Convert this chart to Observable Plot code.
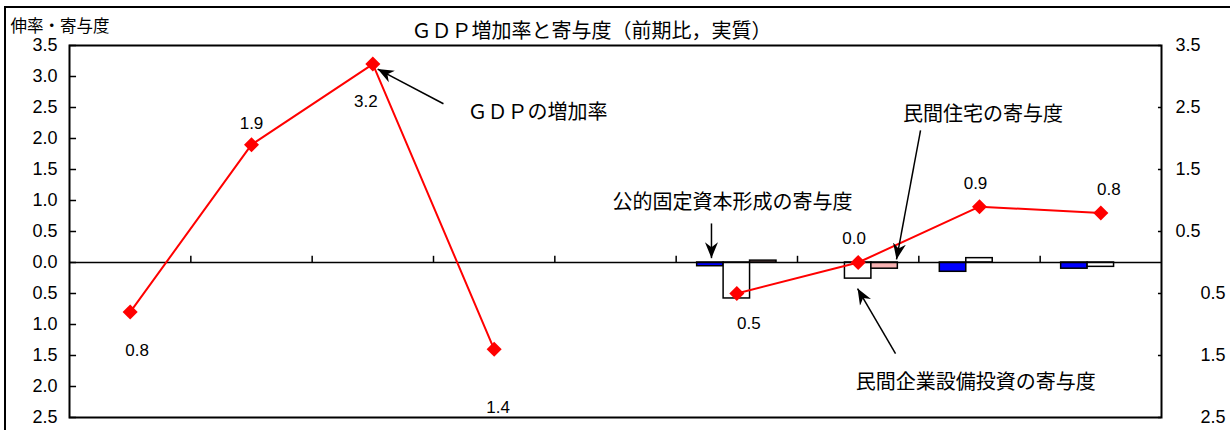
<!DOCTYPE html>
<html>
<head>
<meta charset="utf-8">
<script src="https://cdn.jsdelivr.net/npm/d3@7"></script>
<script src="https://cdn.jsdelivr.net/npm/@observablehq/plot@0.6"></script>
<style>
html, body { margin: 0; padding: 0; background: #fff; }
#wrap { position: relative; width: 1230px; height: 430px; overflow: hidden; background: #fff; }
#wrap svg { position: absolute; left: 0; top: 0; }
#outer { position: absolute; left: 4px; top: 6px; width: 1300px; height: 500px; border-top: 2px solid #000; border-left: 2px solid #000; pointer-events: none; }
</style>
</head>
<body>
<div id="wrap"></div>
<script>
// ---- data ----
const categories = ["1", "2", "3", "4", "5", "6", "7", "8", "9"];
const gdpGrowth = [-0.8, 1.9, 3.2, -1.4, null, -0.5, 0.0, 0.9, 0.8];
const publicInvestment = [null, null, null, null, null, -0.06, 0.0, -0.15, -0.10];
const businessInvestment = [null, null, null, null, null, -0.58, -0.26, 0.07, -0.07];
const housingInvestment = [null, null, null, null, null, 0.03, -0.10, 0.0, 0.0];
const leftTicks = [-2.5, -2.0, -1.5, -1.0, -0.5, 0.0, 0.5, 1.0, 1.5, 2.0, 2.5, 3.0, 3.5];
const rightTicks = [3.5, 2.5, 1.5, 0.5, -0.5, -1.5, -2.5];
const titleText = "ＧＤＰ増加率と寄与度（前期比，実質）";
const yLabelText = "伸率・寄与度";
const noteGdp = "ＧＤＰの増加率";
const noteHousing = "民間住宅の寄与度";
const notePublic = "公的固定資本形成の寄与度";
const noteBusiness = "民間企業設備投資の寄与度";

// ---- tables ----
const gdpRows = categories.map((c, i) => ({i, v: gdpGrowth[i]}));
const barW = 0.218;
function barRows(arr, k) {
  return categories.map((c, i) => ({i, k, v: arr[i]})).filter(d => d.v != null);
}
const pubRows = barRows(publicInvestment, 0);
const busRows = barRows(businessInvestment, 1);
const houRows = barRows(housingInvestment, 2);
const bx1 = d => d.i + 0.5 + (d.k - 1.5) * barW;
const bx2 = d => d.i + 0.5 + (d.k - 0.5) * barW;
const fmt = v => Math.abs(v).toFixed(1);
const CJK = "'Noto Sans CJK JP', 'Noto Sans', sans-serif";
const LAT = "'Liberation Sans', Arial, sans-serif";

function solidArrow(color, context) {
  const m = d3.create("svg:marker")
    .attr("viewBox", "-16 -7 17 14")
    .attr("markerWidth", 17)
    .attr("markerHeight", 14)
    .attr("markerUnits", "userSpaceOnUse")
    .attr("orient", "auto")
    .attr("fill", "black")
    .attr("stroke", "none");
  m.append("path").attr("d", "M0,0L-16,-6.5L-11,0L-16,6.5Z");
  return m.node();
}

const arrows = [
  {x1: 3.082, y1: 2.56, x2: 2.54, y2: 3.12},
  {x1: 7.014, y1: 2.13, x2: 6.816, y2: 0.05},
  {x1: 5.291, y1: 0.63, x2: 5.291, y2: 0.07},
  {x1: 6.808, y1: -1.47, x2: 6.495, y2: -0.42}
];

const pick = (idx) => gdpRows.filter(d => idx.includes(d.i));

const chart = Plot.plot({
  width: 1230,
  height: 430,
  marginLeft: 69,
  marginRight: 69,
  marginTop: 45,
  marginBottom: 13,
  style: {background: "transparent", fontFamily: LAT, fontSize: "18px", color: "#000"},
  x: {type: "linear", domain: [0, categories.length], axis: null},
  y: {domain: [-2.5, 3.5], axis: null},
  marks: [
    // bars
    Plot.rect(pubRows, {x1: bx1, x2: bx2, y1: 0, y2: "v", fill: "#0000ff", stroke: "#000", strokeWidth: 1.5}),
    Plot.rect(busRows, {x1: bx1, x2: bx2, y1: 0, y2: "v", fill: "#ffffff", stroke: "#000", strokeWidth: 1.5}),
    Plot.rect(houRows, {x1: bx1, x2: bx2, y1: 0, y2: "v", fill: "#f9b3b3", stroke: "#000", strokeWidth: 1.5}),
    // zero line and category ticks
    Plot.ruleY([0], {stroke: "#000", strokeWidth: 1.5}),
    Plot.ruleX(d3.range(1, categories.length), {y1: 0, y2: 0.1, stroke: "#000", strokeWidth: 1.5}),
    // left axis
    Plot.ruleY(leftTicks, {x1: 0, x2: 0.058, stroke: "#000", strokeWidth: 1.5}),
    Plot.axisY({anchor: "left", ticks: leftTicks, tickSize: 0, tickPadding: 12, tickFormat: fmt}),
    // right axis
    Plot.ruleY(rightTicks, {x1: categories.length - 0.025, x2: categories.length, stroke: "#000", strokeWidth: 1.5}),
    Plot.axisY({anchor: "right", ticks: rightTicks.filter(t => t > 0), tickSize: 0, tickPadding: 14, textAnchor: "start", tickFormat: fmt}),
    Plot.axisY({anchor: "right", ticks: rightTicks.filter(t => t < 0), tickSize: 0, tickPadding: 39, textAnchor: "start", tickFormat: fmt}),
    Plot.frame({stroke: "#000", strokeWidth: 2}),
    // GDP line
    Plot.line(gdpRows, {x: d => d.i + 0.5, y: "v", stroke: "#ff0000", strokeWidth: 2}),
    Plot.dot(gdpRows.filter(d => d.v != null), {x: d => d.i + 0.5, y: "v", symbol: "square", r: 6, rotate: 45, fill: "#ff0000", stroke: "none"}),
    // value labels
    Plot.text(pick([0]), {x: d => d.i + 0.5, y: "v", text: d => fmt(d.v), dx: 7, dy: 38, fontSize: 17}),
    Plot.text(pick([1]), {x: d => d.i + 0.5, y: "v", text: d => fmt(d.v), dx: 0, dy: -21, fontSize: 17}),
    Plot.text(pick([2]), {x: d => d.i + 0.5, y: "v", text: d => fmt(d.v), dx: -7, dy: 37, fontSize: 17}),
    Plot.text(pick([3]), {x: d => d.i + 0.5, y: "v", text: d => fmt(d.v), dx: 4, dy: 58, fontSize: 17}),
    Plot.text(pick([5]), {x: d => d.i + 0.5, y: "v", text: d => fmt(d.v), dx: 12, dy: 30, fontSize: 17}),
    Plot.text(pick([6]), {x: d => d.i + 0.5, y: "v", text: d => fmt(d.v), dx: -4, dy: -24, fontSize: 17}),
    Plot.text(pick([7]), {x: d => d.i + 0.5, y: "v", text: d => fmt(d.v), dx: -4, dy: -23, fontSize: 17}),
    Plot.text(pick([8]), {x: d => d.i + 0.5, y: "v", text: d => fmt(d.v), dx: 8, dy: -23, fontSize: 17}),
    // annotations
    Plot.link(arrows, {x1: "x1", y1: "y1", x2: "x2", y2: "y2", stroke: "#000", strokeWidth: 1.5, markerEnd: solidArrow}),
    Plot.text([noteGdp], {x: 3.28, y: 2.42, text: d => d, textAnchor: "start", fontFamily: CJK, fontSize: 20}),
    Plot.text([noteHousing], {x: 6.87, y: 2.39, text: d => d, textAnchor: "start", fontFamily: CJK, fontSize: 20}),
    Plot.text([notePublic], {x: 4.475, y: 0.97, text: d => d, textAnchor: "start", fontFamily: CJK, fontSize: 20}),
    Plot.text([noteBusiness], {x: 6.48, y: -1.93, text: d => d, textAnchor: "start", fontFamily: CJK, fontSize: 20}),
    // title and y label
    Plot.text([titleText], {frameAnchor: "top", text: d => d, dx: -24, dy: -22, fontFamily: CJK, fontSize: 20}),
    Plot.text([yLabelText], {frameAnchor: "top-left", text: d => d, dx: -59, dy: -25, textAnchor: "start", fontFamily: CJK, fontSize: 16.5})
  ]
});

const wrap = document.getElementById("wrap");
wrap.appendChild(chart);
const outer = document.createElement("div");
outer.id = "outer";
wrap.appendChild(outer);
</script>
</body>
</html>
